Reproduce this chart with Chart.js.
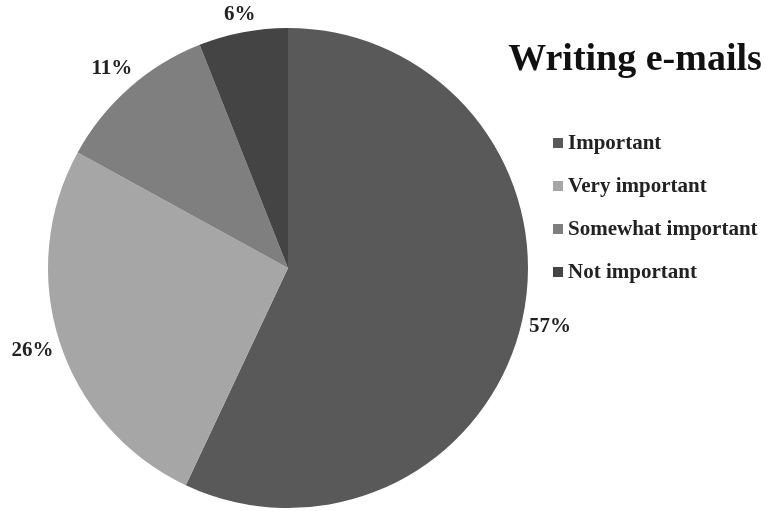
<!DOCTYPE html>
<html>
<head>
<meta charset="utf-8">
<script src="https://cdn.jsdelivr.net/npm/chart.js@4/dist/chart.umd.min.js"></script>
<style>
  html, body { margin: 0; padding: 0; background: #fff; }
  .wrap { position: relative; width: 766px; height: 511px; }
  canvas { position: absolute; left: 0; top: 0; }
  .title {
    position: absolute; left: 490px; top: 35px; width: 290px; text-align: center;
    font: bold 38px "Liberation Serif", serif; color: #111; white-space: nowrap;
  }
  .legend { position: absolute; left: 553px; top: 121px; }
  .legend__item {
    display: flex; align-items: center; height: 43px; white-space: nowrap;
    font: bold 21px "Liberation Serif", serif; color: #222;
  }
  .legend__box { width: 10px; height: 10px; margin-right: 5px; }
</style>
</head>
<body>
<div class="wrap">
  <canvas id="pie" width="766" height="511"></canvas>
  <div class="title">Writing e-mails</div>
  <div class="legend" id="legend"></div>
</div>
<script>
const categories = ["Important", "Very important", "Somewhat important", "Not important"];
const shares = [57, 26, 11, 6];
const colors = ["#595959", "#a6a6a6", "#7f7f7f", "#444444"];

// percent labels outside each slice; the text box sits just off the arc
const outsideLabels = {
  id: "outsideLabels",
  afterDatasetsDraw(chart) {
    const ctx = chart.ctx;
    const meta = chart.getDatasetMeta(0);
    ctx.save();
    ctx.font = "bold 21px 'Liberation Serif', serif";
    ctx.fillStyle = "#222";
    ctx.textAlign = "center";
    ctx.textBaseline = "middle";
    meta.data.forEach((arc, i) => {
      const text = shares[i] + "%";
      const w = ctx.measureText(text).width;
      const h = 18;
      const mid = (arc.startAngle + arc.endAngle) / 2;
      const cx = Math.cos(mid), cy = Math.sin(mid);
      const r = arc.outerRadius + 6 + Math.abs(cx) * w / 2 + Math.abs(cy) * h / 2;
      ctx.fillText(text, arc.x + cx * r, arc.y + cy * r);
    });
    ctx.restore();
  },
};

const chart = new Chart(document.getElementById("pie").getContext("2d"), {
  type: "pie",
  data: {
    labels: categories,
    datasets: [{ data: shares, backgroundColor: colors, borderWidth: 0 }],
  },
  options: {
    responsive: false,
    animation: false,
    layout: { padding: { left: 48, right: 238, top: 28, bottom: 3 } },
    plugins: { legend: { display: false }, tooltip: { enabled: false } },
  },
  plugins: [outsideLabels],
});

// html legend built from the chart data
const legend = document.getElementById("legend");
chart.data.labels.forEach((label, i) => {
  const item = document.createElement("div");
  item.className = "legend__item";
  const box = document.createElement("span");
  box.className = "legend__box";
  box.style.background = colors[i];
  item.appendChild(box);
  item.appendChild(document.createTextNode(label));
  legend.appendChild(item);
});
</script>
</body>
</html>
